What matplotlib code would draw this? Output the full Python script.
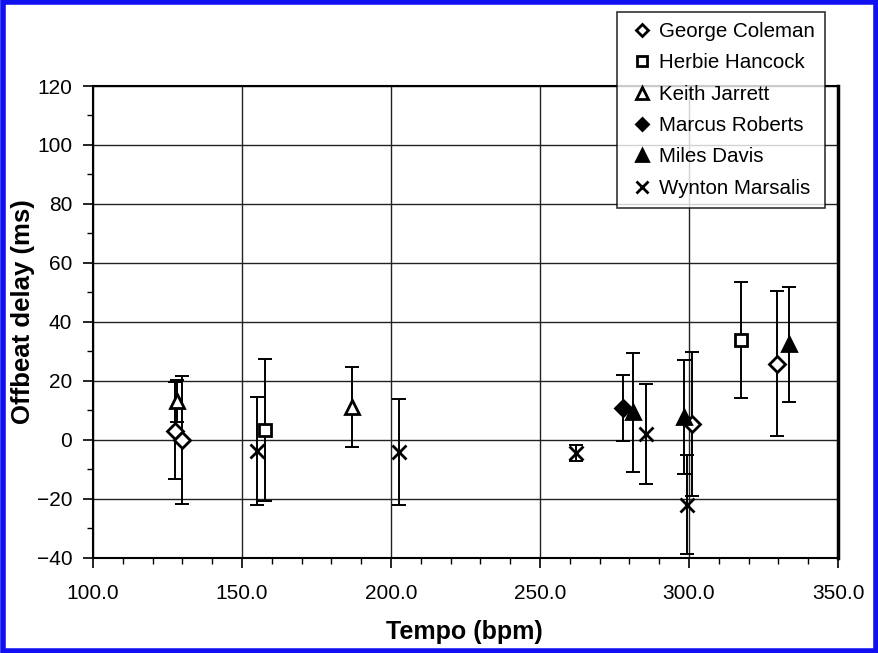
import matplotlib
matplotlib.use('Agg')
import matplotlib.pyplot as plt
from matplotlib.patches import Rectangle
from matplotlib.ticker import MultipleLocator, FormatStrFormatter

plt.rcParams['font.family'] = ['Liberation Sans', 'DejaVu Sans']

# values (tempo in bpm, delay and error in ms)
coleman_tempo = [127.5, 129.9, 301.0, 329.5]
coleman_delay = [3.2, 0.0, 5.4, 25.8]
coleman_err = [16.3, 21.7, 24.4, 24.6]

hancock_tempo = [157.7, 317.4]
hancock_delay = [3.4, 33.9]
hancock_err = [24.0, 19.8]

jarrett_tempo = [128.2, 186.9]
jarrett_delay = [13.2, 11.2]
jarrett_err = [7.0, 13.5]

roberts_tempo = [277.9]
roberts_delay = [10.8]
roberts_err = [11.3]

davis_tempo = [281.2, 298.3, 333.6]
davis_delay = [9.4, 7.8, 32.5]
davis_err = [20.2, 19.3, 19.5]

marsalis_tempo = [155.0, 202.7, 262.1, 285.6, 299.3]
marsalis_delay = [-3.7, -4.1, -4.4, 2.0, -22.0]
marsalis_err = [18.3, 18.0, 2.7, 17.0, 16.8]

series = [
    ("George Coleman", coleman_tempo, coleman_delay, coleman_err, dict(marker='D', mfc='white', ms=8)),
    ("Herbie Hancock", hancock_tempo, hancock_delay, hancock_err, dict(marker='s', mfc='white', ms=9)),
    ("Keith Jarrett", jarrett_tempo, jarrett_delay, jarrett_err, dict(marker='^', mfc='white', ms=10)),
    ("Marcus Roberts", roberts_tempo, roberts_delay, roberts_err, dict(marker='D', mfc='black', ms=8)),
    ("Miles Davis", davis_tempo, davis_delay, davis_err, dict(marker='^', mfc='black', ms=10)),
    ("Wynton Marsalis", marsalis_tempo, marsalis_delay, marsalis_err, dict(marker='x', mfc='black', ms=10)),
]

fig = plt.figure(figsize=(8.79, 6.53), dpi=100)
ax = fig.add_axes([0.1058, 0.1455, 0.8476, 0.7228])

for name, x, y, err, style in series:
    ax.errorbar(x, y, yerr=err, fmt='none', ecolor='black', elinewidth=1.4,
                capsize=5, capthick=1.4, zorder=3)
    ax.plot(x, y, linestyle='none', color='black', mec='black', mew=2,
            label=name, zorder=4, **style)

ax.set_xlim(100, 350)
ax.set_ylim(-40, 120)
ax.xaxis.set_major_locator(MultipleLocator(50))
ax.xaxis.set_minor_locator(MultipleLocator(10))
ax.yaxis.set_major_locator(MultipleLocator(20))
ax.yaxis.set_minor_locator(MultipleLocator(10))
ax.xaxis.set_major_formatter(FormatStrFormatter('%.1f'))
ax.grid(True, which='major', color='#222222', linewidth=1.0)
ax.set_axisbelow(True)
ax.tick_params(which='major', direction='out', length=7, width=1.2, labelsize=15, pad=8)
ax.tick_params(axis='x', which='major', pad=12)
ax.tick_params(which='minor', direction='out', length=4, width=1.0)
for s in ax.spines.values():
    s.set_color('black')
    s.set_linewidth(1.5)
ax.spines['right'].set_linewidth(2.5)

ax.set_xlabel("Tempo (bpm)", fontsize=18, fontweight='bold')
ax.set_ylabel("Offbeat delay (ms)", fontsize=18.5, fontweight='bold')
ax.xaxis.set_label_coords(0.499, -0.131)
ax.yaxis.set_label_coords(-0.078, 0.523)

leg = ax.legend(loc='upper left', bbox_to_anchor=(0.702, 0.982),
                bbox_transform=fig.transFigure, fontsize=14.8, frameon=True,
                fancybox=False, edgecolor='black', handlelength=1.4,
                handletextpad=0.15, labelspacing=0.6, borderpad=0.5,
                borderaxespad=0, markerscale=0.8)
leg.get_frame().set_linewidth(1.2)

# blue frame round the whole picture
fig.patches.append(Rectangle((0.003, 0.003), 0.994, 0.994, transform=fig.transFigure,
                             fill=False, edgecolor='#1010f0', linewidth=4))

fig.savefig("out.png", dpi=100)
plt.close()
